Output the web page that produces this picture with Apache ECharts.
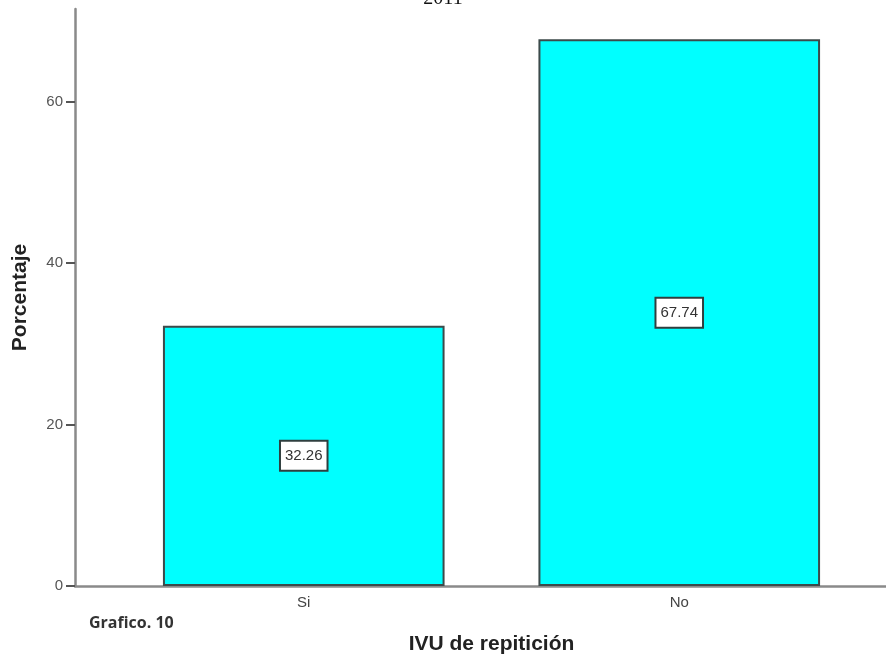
<!DOCTYPE html>
<html>
<head>
<meta charset="utf-8">
<script src="https://cdn.jsdelivr.net/npm/echarts@6/dist/echarts.min.js"></script>
<style>
	html, body { margin: 0; padding: 0; background: #fff; }
	#main { width: 886px; height: 660px; }
</style>
</head>
<body>
<div id="main"></div>
<script>
// datos del gráfico
var categorias = ['Si', 'No'];
var porcentajes = [32.26, 67.74];
var yTicks = [0, 20, 40, 60];

var myChart = echarts.init(document.getElementById('main'));

var ejeColor = '#8a8a8a';

var option = {
	backgroundColor: '#fff',
	animation: false,
	title: [{
		text: '2011',
		left: 'center',
		top: -16,
		textStyle: { fontFamily: 'Liberation Serif', fontSize: 20, fontWeight: 'normal', color: '#111' }
	}, {
		text: 'Grafico. 10',
		left: 84,
		top: 610,
		textStyle: { fontFamily: 'Open Sans', fontSize: 16, fontWeight: 'bold', color: '#333' }
	}],
	grid: [{
		left: 116,
		right: 19,
		top: 9,
		bottom: 74,
		outerBoundsMode: 'none',
		containLabel: false
	}, {
		left: 75,
		right: 0,
		top: 9,
		bottom: 74,
		outerBoundsMode: 'none',
		containLabel: false
	}],
	xAxis: [{
		type: 'category',
		gridIndex: 0,
		data: categorias,
		name: 'IVU de repitición',
		nameLocation: 'middle',
		nameGap: 48,
		nameTextStyle: { fontFamily: 'Liberation Sans', fontSize: 21, fontWeight: 'bold', color: '#222' },
		axisLine: { show: false },
		axisTick: { alignWithLabel: true, length: 8, lineStyle: { color: '#444', width: 2 } },
		axisLabel: { fontFamily: 'Liberation Sans', fontSize: 15, color: '#444', margin: 9 }
	}, {
		type: 'category',
		gridIndex: 1,
		data: [''],
		axisLine: { show: true, lineStyle: { color: ejeColor, width: 2.5 } },
		axisTick: { show: false },
		axisLabel: { show: false }
	}],
	yAxis: [{
		type: 'value',
		gridIndex: 0,
		min: 0,
		max: 71.5,
		interval: 20,
		offset: 41,
		name: 'Porcentaje',
		nameLocation: 'middle',
		nameGap: 44,
		nameTextStyle: { fontFamily: 'Liberation Sans', fontSize: 21, fontWeight: 'bold', color: '#222' },
		splitLine: { show: false },
		axisLine: { show: true, lineStyle: { color: ejeColor, width: 2.5 } },
		axisTick: { show: true, length: 9, customValues: yTicks, lineStyle: { color: '#555', width: 2 } },
		axisLabel: { fontFamily: 'Liberation Sans', fontSize: 15, color: '#555', margin: 12, customValues: yTicks }
	}, {
		type: 'value',
		gridIndex: 1,
		show: false
	}],
	series: [{
		name: 'Porcentaje',
		type: 'bar',
		xAxisIndex: 0,
		yAxisIndex: 0,
		data: porcentajes,
		barWidth: '75%',
		itemStyle: {
			color: '#00ffff',
			borderColor: '#3c4a4a',
			borderWidth: 2
		},
		label: {
			show: true,
			position: 'inside',
			formatter: function(p) { return p.value.toFixed(2); },
			fontFamily: 'Liberation Sans',
			fontSize: 15,
			color: '#333',
			backgroundColor: '#fff',
			borderColor: '#2f3f3f',
			borderWidth: 2,
			padding: [7, 4, 6, 4]
		}
	}]
};

myChart.setOption(option);
</script>
</body>
</html>
